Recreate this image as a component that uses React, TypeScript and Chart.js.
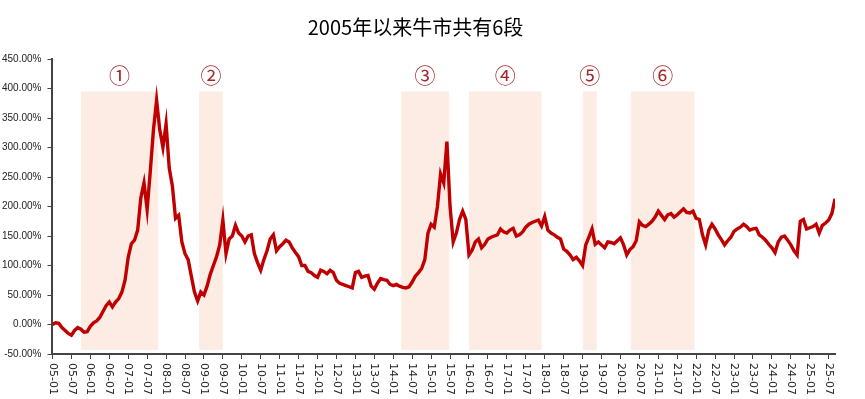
import React, { useEffect, useRef } from 'react';
import { Chart, registerables } from 'chart.js';

Chart.register(...registerables);

const chartTitle = '2005年以来牛市共有6段';

// cumulative return (%) by month, starting 2005-01
const cumulativeReturn = [
  0, 3, 2, -5, -10, -15, -18, -10, -5, -8, -13, -12,
  -3, 3, 6, 12, 22, 32, 38, 30, 38, 44, 55, 75,
  114, 137, 143, 160, 215, 240, 195, 260, 330, 380, 330, 300,
  340, 265, 235, 180, 185, 140, 120, 110, 82, 55, 40, 55,
  50, 65, 85, 100, 115, 135, 177, 120, 145, 150, 168, 155,
  150, 140, 150, 152, 120, 105, 92, 110, 125, 145, 152, 125,
  132, 137, 143, 140, 130, 122, 115, 100, 100, 90, 88, 83,
  80, 92, 90, 86, 92, 88, 75, 70, 68, 66, 64, 62,
  88, 90, 80, 82, 83, 65, 60, 70, 78, 76, 75, 68,
  66, 68, 65, 63, 62, 64, 72, 82, 88, 95, 110, 155,
  170, 165, 200, 255, 240, 310, 200, 140, 155, 178, 192, 178,
  118, 126, 140, 145, 130, 136, 145, 148, 150, 152, 162, 157,
  155, 160, 163, 150, 152, 157, 165, 170, 173, 175, 177, 167,
  183, 160, 155, 152, 148, 145, 128, 124, 118, 110, 114, 108,
  100, 135, 148, 162, 136, 140, 135, 130, 140, 139, 137, 142,
  147, 135, 118, 127, 132, 142, 174, 168, 166, 170, 175, 182,
  192, 185, 178, 186, 188, 182, 186, 191, 196, 190, 189, 192,
  180, 178, 152, 135, 160, 170, 162, 152, 144, 135, 142, 148,
  158, 162, 165, 170, 166, 160, 162, 163, 152, 148, 143, 136,
  130, 122, 140, 148, 150, 143, 135, 125, 118, 175, 178, 162,
  164, 166, 170, 155, 168, 172, 177, 188, 213,
];

const tickLabels = [
  '05-01', '05-07', '06-01', '06-07', '07-01', '07-07', '08-01', '08-07',
  '09-01', '09-07', '10-01', '10-07', '11-01', '11-07', '12-01', '12-07',
  '13-01', '13-07', '14-01', '14-07', '15-01', '15-07', '16-01', '16-07',
  '17-01', '17-07', '18-01', '18-07', '19-01', '19-07', '20-01', '20-07',
  '21-01', '21-07', '22-01', '22-07', '23-01', '23-07', '24-01', '24-07',
  '25-01', '25-07',
];

// bull market periods, in months since 2005-01
const bullStart = [9, 46.5, 110.5, 132, 168.1, 183.3];
const bullEnd = [33.5, 54, 125.7, 155, 172.5, 203.5];
const bullLabels = ['①', '②', '③', '④', '⑤', '⑥'];
const shadeTop = 395;
const shadeBottom = -43;
const bullLabelLevel = 423;

const yMin = -50;
const yMax = 450;
const yStep = 50;

const bullPlugin = {
  id: 'bullPlugin',
  beforeDatasetsDraw(chart: any) {
    const { ctx, scales } = chart;
    const x = scales.x;
    const y = scales.y;
    ctx.save();
    ctx.fillStyle = '#fdece3';
    const yt = y.getPixelForValue(shadeTop);
    const yb = y.getPixelForValue(shadeBottom);
    for (let i = 0; i < bullStart.length; i++) {
      const x0 = x.getPixelForValue(bullStart[i]);
      const x1 = x.getPixelForValue(bullEnd[i]);
      ctx.fillRect(x0, yt, x1 - x0, yb - yt);
    }
    ctx.restore();
  },
  afterDraw(chart: any) {
    const { ctx, scales } = chart;
    const x = scales.x;
    const y = scales.y;
    ctx.save();
    // circled numbers
    ctx.fillStyle = '#a3262a';
    ctx.font = '21px "Noto Sans CJK SC"';
    ctx.textAlign = 'center';
    ctx.textBaseline = 'middle';
    const ly = y.getPixelForValue(bullLabelLevel);
    for (let i = 0; i < bullStart.length; i++) {
      const cx = x.getPixelForValue((bullStart[i] + bullEnd[i]) / 2);
      ctx.fillText(bullLabels[i], cx, ly);
    }
    // rotated x labels (reading top to bottom)
    ctx.fillStyle = '#222';
    ctx.font = '11px "DejaVu Sans"';
    ctx.textAlign = 'left';
    ctx.textBaseline = 'middle';
    const top = x.top + 9;
    x.ticks.forEach((t: any, i: number) => {
      const px = x.getPixelForValue(t.value);
      ctx.save();
      ctx.translate(px, top);
      ctx.rotate(Math.PI / 2);
      ctx.fillText(tickLabels[i] ?? '', 0, 0);
      ctx.restore();
    });
    ctx.restore();
  },
};

export default function App() {
  const canvasRef = useRef<HTMLCanvasElement | null>(null);

  useEffect(() => {
    document.body.style.margin = '0';
    const canvas = canvasRef.current;
    if (!canvas) return;
    const chart = new Chart(canvas, {
      type: 'line',
      data: {
        datasets: [
          {
            data: cumulativeReturn.map((v, i) => ({ x: i, y: v })),
            borderColor: '#c00000',
            borderWidth: 3.4,
            pointRadius: 0,
            tension: 0,
            fill: false,
          },
        ],
      },
      options: {
        responsive: false,
        animation: false,
        layout: { padding: { left: -4, right: 30, top: 0, bottom: 0 } },
        plugins: {
          legend: { display: false },
          tooltip: { enabled: false },
          title: {
            display: true,
            text: chartTitle,
            color: '#000',
            font: { family: '"Noto Sans CJK SC"', size: 20, weight: 'normal' },
            padding: { top: 15, bottom: 20 },
          },
        },
        scales: {
          x: {
            type: 'linear',
            min: 0,
            max: cumulativeReturn.length - 1,
            afterBuildTicks: (scale: any) => {
              scale.ticks = tickLabels.map((_, i) => ({ value: i * 6 }));
            },
            grid: {
              display: true,
              drawOnChartArea: false,
              drawTicks: true,
              tickLength: 5,
              color: '#444',
            },
            border: { display: true, color: '#444', width: 2 },
            ticks: {
              autoSkip: false,
              minRotation: 90,
              maxRotation: 90,
              padding: 4,
              color: 'rgba(0,0,0,0)',
              font: { family: '"DejaVu Sans"', size: 11 },
              callback: (value: any) => tickLabels[Math.round(Number(value) / 6)] ?? '',
            },
          },
          y: {
            min: yMin,
            max: yMax,
            grid: {
              display: true,
              drawOnChartArea: false,
              drawTicks: true,
              tickLength: 5,
              color: '#444',
            },
            border: { display: true, color: '#444', width: 2 },
            ticks: {
              stepSize: yStep,
              padding: 6,
              color: '#222',
              font: { family: '"Liberation Sans"', size: 10 },
              callback: (value: any) => Number(value).toFixed(2) + '%',
            },
          },
        },
      },
      plugins: [bullPlugin],
    });
    return () => chart.destroy();
  }, []);

  return (
    <div style={{ width: 865, height: 399 }}>
      <canvas ref={canvasRef} width={865} height={399} />
    </div>
  );
}
